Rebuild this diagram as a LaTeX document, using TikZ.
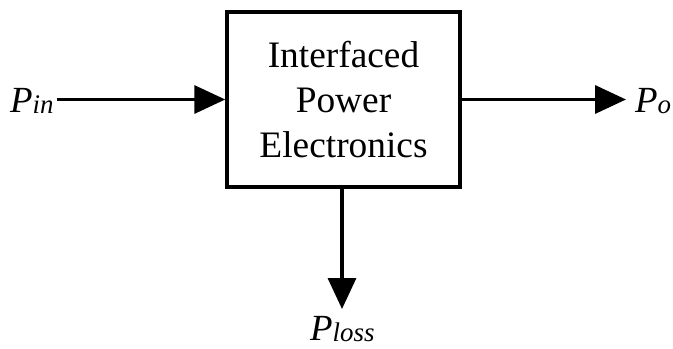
\documentclass[tikz,border=0pt]{standalone}
\usepackage{fontspec}
\newfontfamily\tnr{Liberation Serif}
\usetikzlibrary{arrows.meta}
\tikzset{
  blk/.style={draw, line width=3.5bp, minimum width=233bp, minimum height=175bp, inner sep=0pt, align=center, font=\fontsize{37.5}{45}\selectfont\tnr},
  flow/.style={line width=3.5bp, -{Triangle[length=31bp,width=28bp]}},
  lbl/.style={inner sep=0pt, anchor=base west, font=\fontsize{37}{40}\selectfont\tnr\itshape}
}
\begin{document}
\begin{tikzpicture}[x=1bp,y=1bp]
\useasboundingbox (0,0) rectangle (673,348);
\node[blk] (box) at (343.5,248.5) {Interfaced\\Power\\Electronics};
\coordinate (inS) at (57,248.5);
\coordinate (outE) at (626,248.5);
\coordinate (lossE) at (342,39);
\node[lbl] (pin) at (10,236) {P\raisebox{-1.5bp}{\fontsize{27}{30}\selectfont in}};
\node[lbl] (po) at (635,236) {P\raisebox{-1.5bp}{\fontsize{27}{30}\selectfont o}};
\node[lbl] (ploss) at (310,8) {P\raisebox{-1.5bp}{\fontsize{27}{30}\selectfont loss}};
\draw[flow] (inS) -- (box.west);
\draw[flow] (box.east) -- (outE);
\draw[flow] (box.south -| lossE) -- (lossE);
\end{tikzpicture}
\end{document}
